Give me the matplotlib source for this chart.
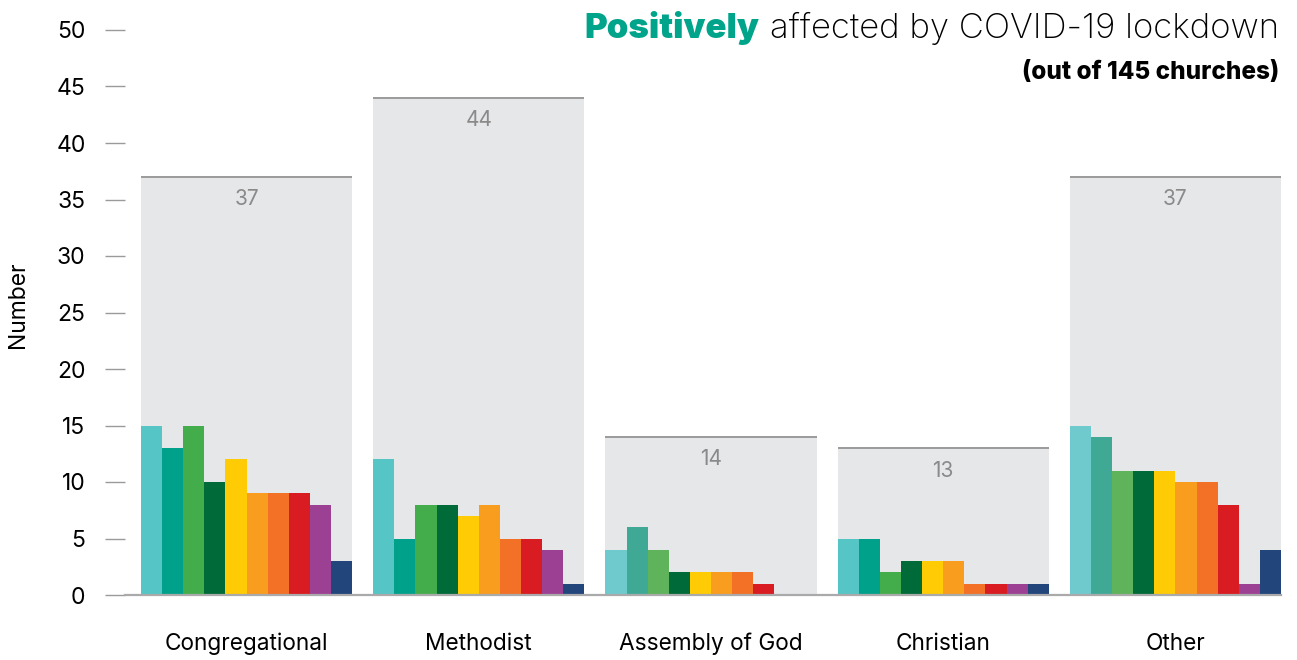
"""Churches positively affected by the COVID-19 lockdown, by denomination."""

import matplotlib.pyplot as plt
import numpy as np

plt.rcParams['font.family'] = ['Inter', 'DejaVu Sans']

denominations = ["Congregational", "Methodist", "Assembly of God", "Christian", "Other"]
totals = [37, 44, 14, 13, 37]

congregational = [15, 13, 15, 10, 12, 9, 9, 9, 8, 3]
methodist = [12, 5, 8, 8, 7, 8, 5, 5, 4, 1]
assembly_of_god = [4, 6, 4, 2, 2, 2, 2, 1, 0, 0]
christian = [5, 5, 2, 3, 3, 3, 1, 1, 1, 1]
other = [15, 14, 11, 11, 11, 10, 10, 8, 1, 4]
groups = [congregational, methodist, assembly_of_god, christian, other]

yticks = [0, 5, 10, 15, 20, 25, 30, 35, 40, 45, 50]

palette_a = ['#56c5c5', '#00a18a', '#43ad4b', '#006a39', '#ffcb05',
             '#f99d1f', '#f37027', '#d91b22', '#9b4092', '#22467c']
palette_b = ['#6fcacd', '#3fa996', '#5fb35a'] + palette_a[3:]
group_palettes = [palette_a, palette_a, palette_b, palette_a, palette_b]

GROUP_STEP = 1.1
SUB_W = 0.1

fig = plt.figure(figsize=(12.97, 6.60), dpi=100)
ax = fig.add_axes([125 / 1297, 65 / 660, 1156 / 1297, 565 / 660])

for i, (vals, total, pal) in enumerate(zip(groups, totals, group_palettes)):
    left = i * GROUP_STEP
    ax.bar(left, total, width=len(vals) * SUB_W, align='edge',
           color='#e6e7e9', zorder=1)
    ax.plot([left, left + len(vals) * SUB_W], [total, total],
            color='#9a9a9a', lw=1.4, zorder=2, solid_capstyle='butt')
    ax.annotate(str(total), (left + len(vals) * SUB_W / 2, total),
                xytext=(0, -9), textcoords='offset points',
                ha='center', va='top', fontsize=15, color='#8a8a8a')
    xs = left + np.arange(len(vals)) * SUB_W
    ax.bar(xs, vals, width=SUB_W, align='edge', color=pal, zorder=3)

ax.set_xlim(-0.0757, 4 * GROUP_STEP + 1.0)
ax.set_ylim(0, 50)

for s in ['top', 'right', 'left']:
    ax.spines[s].set_visible(False)
ax.spines['bottom'].set_color('#aaaaaa')
ax.spines['bottom'].set_linewidth(1.6)
ax.spines['bottom'].set_zorder(4)

ax.set_yticks(yticks)
ax.tick_params(axis='y', length=14.4, width=1, color='#9a9a9a',
               pad=14, labelsize=16.5)
ax.set_xticks([i * GROUP_STEP + 0.5 for i in range(len(denominations))])
ax.set_xticklabels(denominations)
ax.tick_params(axis='x', length=0, pad=27, labelsize=16.3)

fig.text(18 / 1297, 1 - 305 / 660, "Number", rotation=90,
         ha='center', va='center', fontsize=16.5)

fig.text(1279 / 1297, 1 - 28 / 660, "affected by COVID-19 lockdown",
         ha='right', va='center', fontsize=25, fontweight='light')
# bold coloured word placed just left of the rest of the title
fig.canvas.draw()
rest = fig.texts[-1].get_window_extent()
fig.text((rest.x0 - 10) / 1297, 1 - 28 / 660, "Positively", ha='right',
         va='center', fontsize=25, fontweight='black', color='#00a48a')
fig.text(1279 / 1297, 1 - 73 / 660, "(out of 145 churches)",
         ha='right', va='center', fontsize=17.5, fontweight='heavy')

fig.savefig("out.png", dpi=100)
